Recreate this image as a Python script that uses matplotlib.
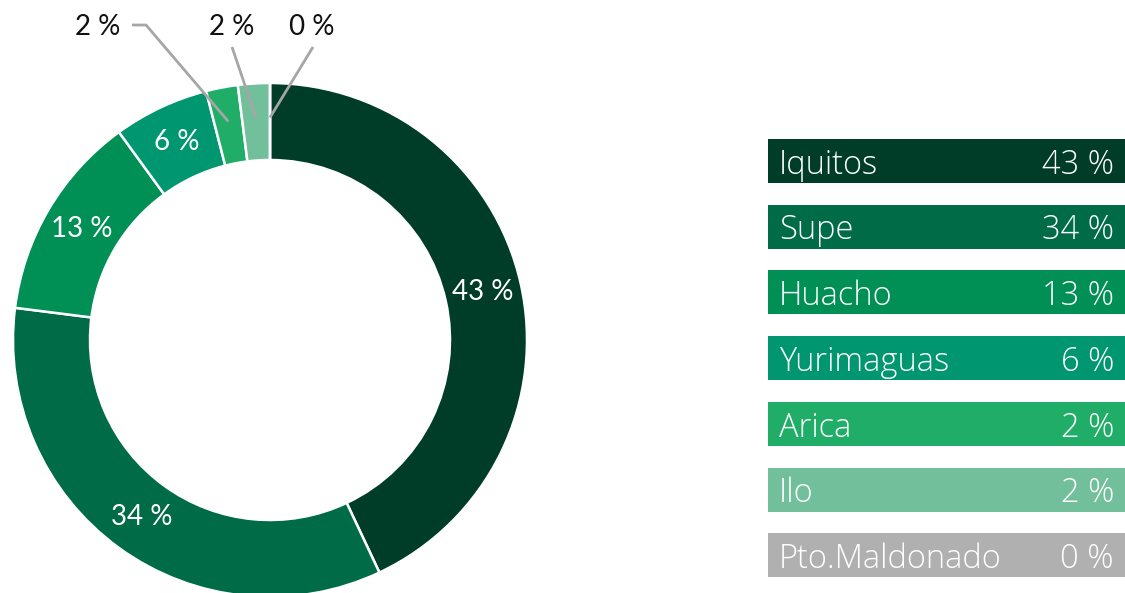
import numpy as np
import matplotlib.pyplot as plt

ports = ["Iquitos", "Supe", "Huacho", "Yurimaguas", "Arica", "Ilo", "Pto.Maldonado"]
shares = [43, 34, 13, 6, 2, 2, 0]
colors = ["#003d29", "#006b47", "#008f55", "#00966f", "#20ad67", "#72bf9b", "#b0b0b0"]

W, H = 1125, 593
fig = plt.figure(figsize=(W / 100, H / 100), dpi=100)
ax = fig.add_axes([0, 0, 1, 1])

# everything below is laid out in pixel units, y measured from the top
def py(y):
    return H - y

cx, cy = 270, 340
r_out, r_in = 257, 180
r_mid = (r_out + r_in) / 2

wedges, _ = ax.pie(shares, colors=colors, startangle=90, counterclock=False,
                   center=(cx, py(cy)), radius=r_out,
                   wedgeprops=dict(width=r_out - r_in, edgecolor="white", linewidth=1.8))
ax.set_xlim(0, W)
ax.set_ylim(0, H)
ax.set_aspect("auto")
ax.axis("off")

lab_font = dict(family="Lato", fontsize=20)

def mid_point(w, r):
    a = np.deg2rad((w.theta1 + w.theta2) / 2)
    return cx + r * np.cos(a), py(cy) + r * np.sin(a)

# large shares: value written inside the ring
for w, v in zip(wedges[:4], shares[:4]):
    x, y = mid_point(w, r_mid)
    ax.text(x, y, f"{v} %", color="white", ha="center", va="center", **lab_font)

# small shares: value above the ring with a leader line
callouts = [((98, 27), [(132, 25), (146, 25)]),
            ((232, 27), [(232, 47)]),
            ((312, 27), [(313, 47)])]
for w, v, ((tx, ty), path) in zip(wedges[4:], shares[4:], callouts):
    ax.text(tx, py(ty), f"{v} %", color="#111111", ha="center", va="center", **lab_font)
    ex, ey = mid_point(w, r_mid + 4)
    xs = [p[0] for p in path] + [ex]
    ys = [py(p[1]) for p in path] + [ey]
    ax.plot(xs, ys, color="#a6a6a6", lw=2, solid_capstyle="butt")

# legend bars on the right
bar_x, bar_w, bar_h = 768, W - 768, 44
top0, step = 139, 65.7
leg_font = dict(family="Open Sans", fontweight="light", fontsize=23.5)
for i, (name, v, c) in enumerate(zip(ports, shares, colors)):
    top = top0 + i * step
    ax.add_patch(plt.Rectangle((bar_x, py(top + bar_h)), bar_w, bar_h, color=c, lw=0))
    yc = py(top + bar_h / 2)
    ax.text(779, yc, name, color="white", ha="left", va="center_baseline", **leg_font)
    ax.text(1114, yc, f"{v} %", color="white", ha="right", va="center_baseline", **leg_font)

fig.savefig("out.png", dpi=100)
